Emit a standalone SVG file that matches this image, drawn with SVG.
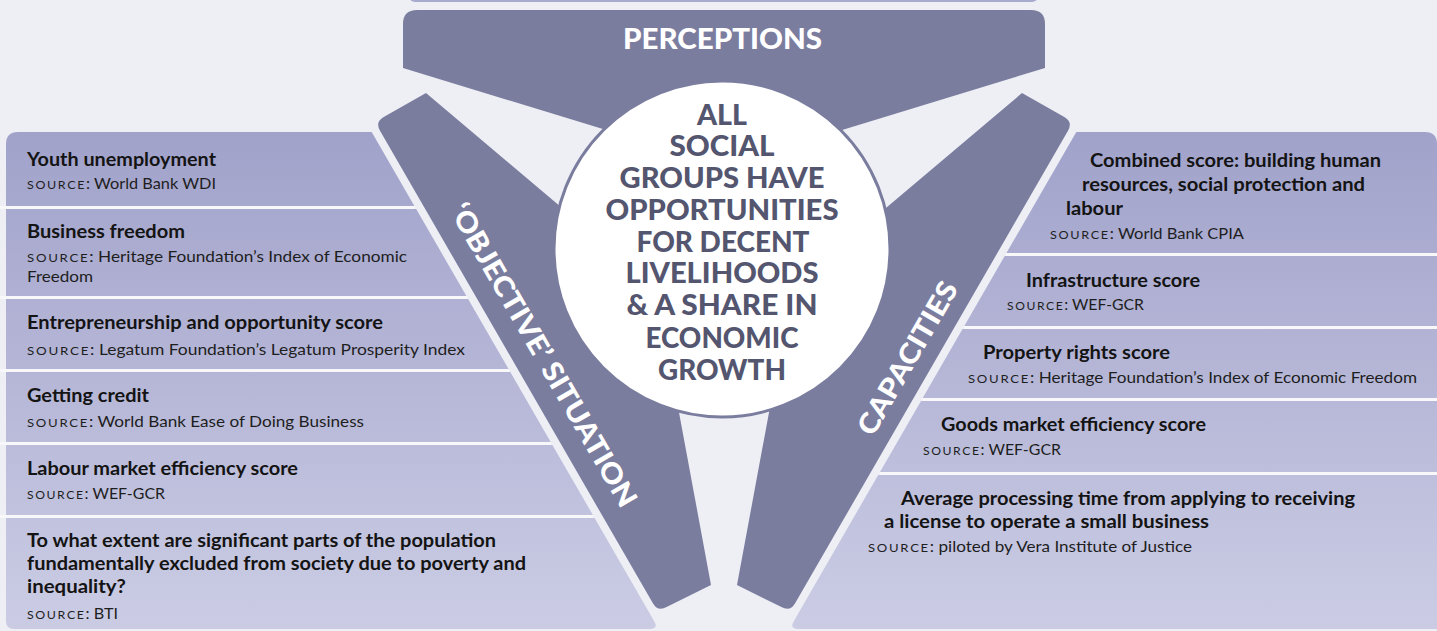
<svg xmlns="http://www.w3.org/2000/svg" width="1437" height="631" viewBox="0 0 1437 631">
<defs>
<linearGradient id="pg" gradientUnits="userSpaceOnUse" x1="0" y1="130" x2="0" y2="631">
<stop offset="0" stop-color="#a1a2ca"/>
<stop offset="1" stop-color="#cbcce4"/>
</linearGradient>
<style>
.bg{fill:#eeeff5}
.arm{fill:#7b7d9f}
.panel{fill:url(#pg)}
.div{fill:#f8f8fb}
.t{font-family:Lato,'Open Sans','Liberation Sans',sans-serif;font-weight:700;font-size:18.5px;fill:#141414}
.s{font-family:Lato,'Open Sans','Liberation Sans',sans-serif;font-weight:400;font-size:15px;fill:#1e1e1e}
.sc{font-size:11.5px;letter-spacing:1.5px}
.c{font-family:Lato,'Open Sans','Liberation Sans',sans-serif;font-weight:900;font-size:28px;fill:#54556f;text-anchor:middle}
.w{font-family:Lato,'Open Sans','Liberation Sans',sans-serif;font-weight:900;font-size:28px;fill:#ffffff;text-anchor:middle}
</style>
</defs>
<rect class="bg" x="0" y="0" width="1437" height="631"/>
<rect x="409" y="-12" width="629" height="14" rx="6" fill="#a9aad0"/>

<g id="perceptions">
<path class="arm" d="M403,68 L403,24 Q403,10 417,10 L1031,10 Q1045,10 1045,24 L1045,68 L724,166 Z"/>
<text class="w" x="722.5" y="49" font-size="30" textLength="199" lengthAdjust="spacingAndGlyphs">PERCEPTIONS</text>
</g>

<g id="objective-situation">
<path class="arm" d="M380,130.7 Q375,122 383.7,117 L426,93 L600,240 L673,380 L711,585 L666.6,607 Q657.9,612 652.9,603.3 Z"/>
<text class="w" transform="translate(535,360) rotate(60)" x="0" y="0" textLength="345" lengthAdjust="spacingAndGlyphs">‘OBJECTIVE’ SITUATION</text>
</g>

<g id="capacities">
<path class="arm" d="M1068,130.7 Q1073,122 1064.3,117 L1022,93 L848,240 L775,380 L737,585 L781.4,607 Q790.1,612 795.1,603.3 Z"/>
<text class="w" transform="translate(916,363) rotate(-60)" x="0" y="0" textLength="172" lengthAdjust="spacingAndGlyphs">CAPACITIES</text>
</g>

<g id="goal">
<circle cx="722" cy="249" r="168" fill="#ffffff" stroke="#7b7d9f" stroke-width="3"/>
<text class="c" x="722" y="125" textLength="50" lengthAdjust="spacingAndGlyphs">ALL</text>
<text class="c" x="722" y="156" textLength="105" lengthAdjust="spacingAndGlyphs">SOCIAL</text>
<text class="c" x="722" y="188" textLength="205" lengthAdjust="spacingAndGlyphs">GROUPS HAVE</text>
<text class="c" x="722" y="220" textLength="233" lengthAdjust="spacingAndGlyphs">OPPORTUNITIES</text>
<text class="c" x="723" y="252" textLength="173" lengthAdjust="spacingAndGlyphs">FOR DECENT</text>
<text class="c" x="722" y="283" textLength="193" lengthAdjust="spacingAndGlyphs">LIVELIHOODS</text>
<text class="c" x="722" y="315" textLength="191" lengthAdjust="spacingAndGlyphs">&amp; A SHARE IN</text>
<text class="c" x="722" y="348" textLength="153" lengthAdjust="spacingAndGlyphs">ECONOMIC</text>
<text class="c" x="722" y="380" textLength="128" lengthAdjust="spacingAndGlyphs">GROWTH</text>
</g>

<g id="dividers">
<rect class="div" x="0" y="206" width="415" height="3"/>
<rect class="div" x="0" y="296" width="467" height="3"/>
<rect class="div" x="0" y="369" width="509" height="3"/>
<rect class="div" x="0" y="442" width="551" height="3"/>
<rect class="div" x="0" y="515" width="593" height="3"/>
<rect class="div" x="1006" y="253" width="431" height="3"/>
<rect class="div" x="964" y="326" width="473" height="3"/>
<rect class="div" x="922" y="398" width="515" height="3"/>
<rect class="div" x="880" y="472" width="557" height="3"/>
</g>

<g id="youth-unemployment">
<path class="panel" d="M6,144 Q6,132 18,132 L371.7,132 L414.4,206 L6,206 Z"/>
<text class="t" x="27" y="166" textLength="189" lengthAdjust="spacingAndGlyphs">Youth unemployment</text>
<text class="s" x="27" y="189" textLength="189" lengthAdjust="spacingAndGlyphs"><tspan class="sc">SOURCE</tspan>: World Bank WDI</text>
</g>

<g id="business-freedom">
<path class="panel" d="M6,209 L416.2,209 L466.4,296 L6,296 Z"/>
<text class="t" x="27" y="238" textLength="158" lengthAdjust="spacingAndGlyphs">Business freedom</text>
<text class="s" x="27" y="262" textLength="380" lengthAdjust="spacingAndGlyphs"><tspan class="sc">SOURCE</tspan>: Heritage Foundation’s Index of Economic</text>
<text class="s" x="27" y="282" textLength="66" lengthAdjust="spacingAndGlyphs">Freedom</text>
</g>

<g id="entrepreneurship">
<path class="panel" d="M6,299 L468.1,299 L508.6,369 L6,369 Z"/>
<text class="t" x="27" y="329" textLength="356" lengthAdjust="spacingAndGlyphs">Entrepreneurship and opportunity score</text>
<text class="s" x="27" y="355" textLength="438" lengthAdjust="spacingAndGlyphs"><tspan class="sc">SOURCE</tspan>: Legatum Foundation’s Legatum Prosperity Index</text>
</g>

<g id="getting-credit">
<path class="panel" d="M6,372 L510.3,372 L550.7,442 L6,442 Z"/>
<text class="t" x="27" y="402" textLength="122" lengthAdjust="spacingAndGlyphs">Getting credit</text>
<text class="s" x="27" y="427" textLength="337" lengthAdjust="spacingAndGlyphs"><tspan class="sc">SOURCE</tspan>: World Bank Ease of Doing Business</text>
</g>

<g id="labour-market">
<path class="panel" d="M6,445 L552.4,445 L592.9,515 L6,515 Z"/>
<text class="t" x="27" y="475" textLength="271" lengthAdjust="spacingAndGlyphs">Labour market efficiency score</text>
<text class="s" x="27" y="499" textLength="138" lengthAdjust="spacingAndGlyphs"><tspan class="sc">SOURCE</tspan>: WEF-GCR</text>
</g>

<g id="exclusion">
<path class="panel" d="M6,518 L594.6,518 L654.1,621 Q658.7,629 650,629 L14,629 Q6,629 6,621 Z"/>
<text class="t" x="27" y="547" textLength="469" lengthAdjust="spacingAndGlyphs">To what extent are significant parts of the population</text>
<text class="t" x="27" y="570" textLength="499" lengthAdjust="spacingAndGlyphs">fundamentally excluded from society due to poverty and</text>
<text class="t" x="27" y="593" textLength="99" lengthAdjust="spacingAndGlyphs">inequality?</text>
<text class="s" x="27" y="619" textLength="91" lengthAdjust="spacingAndGlyphs"><tspan class="sc">SOURCE</tspan>: BTI</text>
</g>

<g id="combined-score">
<path class="panel" d="M1076.3,132 L1425,132 Q1437,132 1437,144 L1437,253 L1006.4,253 Z"/>
<text class="t" x="1090" y="167" textLength="291" lengthAdjust="spacingAndGlyphs">Combined score: building human</text>
<text class="t" x="1082" y="191" textLength="283" lengthAdjust="spacingAndGlyphs">resources, social protection and</text>
<text class="t" x="1066" y="215" textLength="57" lengthAdjust="spacingAndGlyphs">labour</text>
<text class="s" x="1050" y="239" textLength="194" lengthAdjust="spacingAndGlyphs"><tspan class="sc">SOURCE</tspan>: World Bank CPIA</text>
</g>

<g id="infrastructure">
<path class="panel" d="M1004.7,256 L1437,256 L1437,326 L964.3,326 Z"/>
<text class="t" x="1026" y="287" textLength="174" lengthAdjust="spacingAndGlyphs">Infrastructure score</text>
<text class="s" x="1007" y="310" textLength="137" lengthAdjust="spacingAndGlyphs"><tspan class="sc">SOURCE</tspan>: WEF-GCR</text>
</g>

<g id="property-rights">
<path class="panel" d="M962.5,329 L1437,329 L1437,398 L922.7,398 Z"/>
<text class="t" x="983" y="359" textLength="187" lengthAdjust="spacingAndGlyphs">Property rights score</text>
<text class="s" x="968" y="383" textLength="449" lengthAdjust="spacingAndGlyphs"><tspan class="sc">SOURCE</tspan>: Heritage Foundation’s Index of Economic Freedom</text>
</g>

<g id="goods-market">
<path class="panel" d="M921,401 L1437,401 L1437,472 L880,472 Z"/>
<text class="t" x="941" y="431" textLength="265" lengthAdjust="spacingAndGlyphs">Goods market efficiency score</text>
<text class="s" x="923" y="455" textLength="138" lengthAdjust="spacingAndGlyphs"><tspan class="sc">SOURCE</tspan>: WEF-GCR</text>
</g>

<g id="processing-time">
<path class="panel" d="M878.2,475 L1437,475 L1437,629 L798,629 Q789.3,629 793.9,621 Z"/>
<text class="t" x="901" y="505" textLength="454" lengthAdjust="spacingAndGlyphs">Average processing time from applying to receiving</text>
<text class="t" x="884" y="528" textLength="325" lengthAdjust="spacingAndGlyphs">a license to operate a small business</text>
<text class="s" x="868" y="552" textLength="324" lengthAdjust="spacingAndGlyphs"><tspan class="sc">SOURCE</tspan>: piloted by Vera Institute of Justice</text>
</g>
</svg>
